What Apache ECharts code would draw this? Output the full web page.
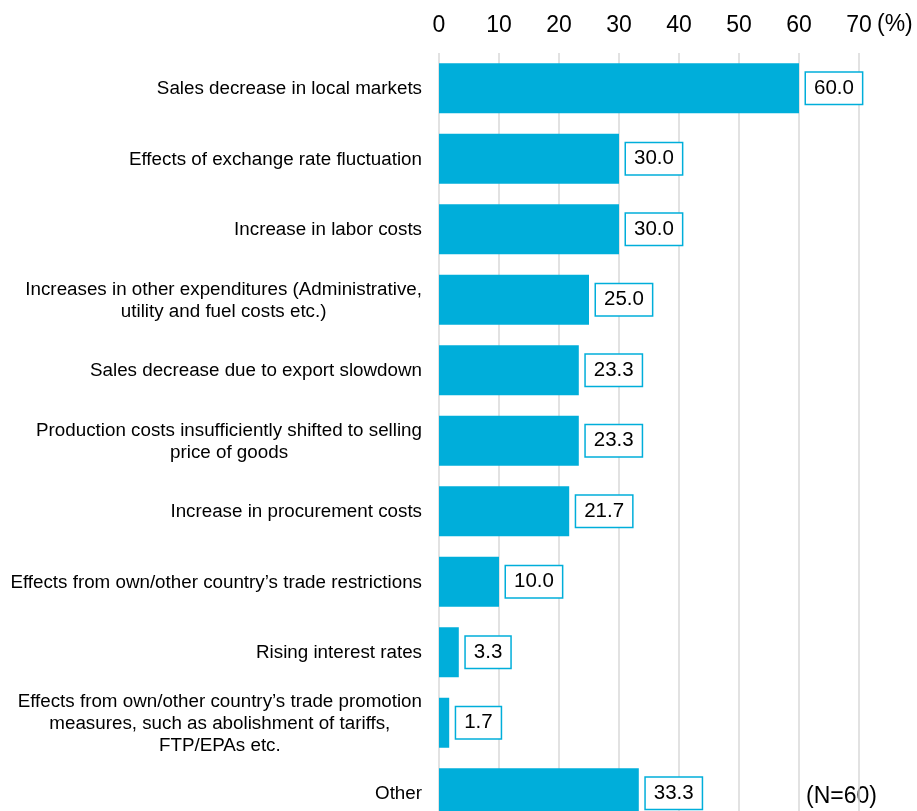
<!DOCTYPE html>
<html>
<head>
<meta charset="utf-8">
<script src="https://cdn.jsdelivr.net/npm/echarts@6/dist/echarts.min.js"></script>
<style>
  html, body { margin: 0; padding: 0; background: #fff; }
  #chart { width: 917px; height: 811px; }
</style>
</head>
<body>
<div id="chart"></div>
<script>
// 理由カテゴリ（上から順）
const categories = [
  "Sales decrease in local markets",
  "Effects of exchange rate fluctuation",
  "Increase in labor costs",
  "Increases in other expenditures (Administrative,\nutility and fuel costs etc.)",
  "Sales decrease due to export slowdown",
  "Production costs insufficiently shifted to selling\nprice of goods",
  "Increase in procurement costs",
  "Effects from own/other country’s trade restrictions",
  "Rising interest rates",
  "Effects from own/other country’s trade promotion\nmeasures, such as abolishment of tariffs,\nFTP/EPAs etc.",
  "Other"
];
const values = [60.0, 30.0, 30.0, 25.0, 23.3, 23.3, 21.7, 10.0, 3.3, 1.7, 33.3];
const unitLabel = "(%)";
const noteLabel = "(N=60)";

const blue = "#00AEDA";
const font = "Liberation Sans, Arial, sans-serif";

const chart = echarts.init(document.getElementById("chart"));
chart.setOption({
  animation: false,
  textStyle: { fontFamily: font },
  // 最下段のバーは画面外まで続く
  grid: { left: 439, right: 58, top: 53, bottom: -17.5, containLabel: false, outerBoundsMode: "none" },
  xAxis: {
    type: "value",
    position: "top",
    min: 0,
    max: 70,
    interval: 10,
    axisLine: { show: false },
    axisTick: { show: false },
    axisLabel: { color: "#000", fontSize: 23, margin: 16, fontFamily: font },
    splitLine: { lineStyle: { color: "#d9d9d9", width: 1.5 } }
  },
  yAxis: {
    type: "category",
    inverse: true,
    data: categories,
    axisLine: { show: false },
    axisTick: { show: false },
    axisLabel: {
      margin: 17,
      formatter: (v) => "{a|" + v.split("\n").join("}\n{a|") + "}",
      rich: {
        a: { align: "center", fontSize: 18.8, lineHeight: 22, padding: [2, 0, 0, 0], color: "#000", fontFamily: font }
      }
    }
  },
  series: [{
    type: "bar",
    data: values,
    barWidth: 50,
    itemStyle: { color: blue },
    label: {
      show: true,
      position: "right",
      distance: 7,
      formatter: (p) => p.value.toFixed(1),
      color: "#000",
      fontSize: 20.5,
      lineHeight: 22,
      fontFamily: font,
      backgroundColor: "#fff",
      borderColor: blue,
      borderWidth: 1.5,
      padding: [5, 8, 4, 8]
    }
  }],
  graphic: [
    { type: "text", left: 877, top: 13, style: { text: unitLabel, fontSize: 23, fill: "#000", fontFamily: font } },
    { type: "text", left: 806, top: 785, style: { text: noteLabel, fontSize: 23, fill: "#000", fontFamily: font } }
  ]
});
</script>
</body>
</html>
